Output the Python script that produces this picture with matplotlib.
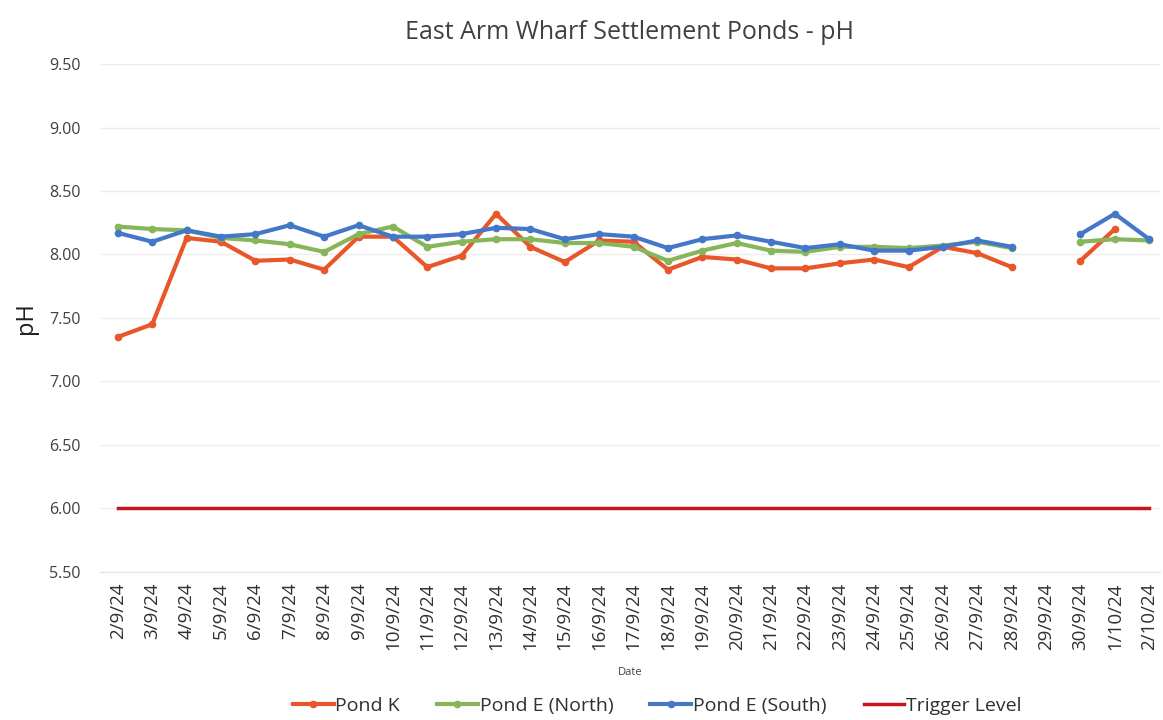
import numpy as np
import matplotlib
matplotlib.use('Agg')
import matplotlib.pyplot as plt

plt.rcParams['font.family'] = ['Open Sans', 'DejaVu Sans']

# Data (None = no reading that day)
dates = ['2/9/24', '3/9/24', '4/9/24', '5/9/24', '6/9/24', '7/9/24', '8/9/24', '9/9/24',
         '10/9/24', '11/9/24', '12/9/24', '13/9/24', '14/9/24', '15/9/24', '16/9/24',
         '17/9/24', '18/9/24', '19/9/24', '20/9/24', '21/9/24', '22/9/24', '23/9/24',
         '24/9/24', '25/9/24', '26/9/24', '27/9/24', '28/9/24', '29/9/24', '30/9/24',
         '1/10/24', '2/10/24']

pond_k = [7.35, 7.45, 8.13, 8.10, 7.95, 7.96, 7.88, 8.14, 8.14, 7.90, 7.99, 8.32,
          8.06, 7.94, 8.11, 8.10, 7.88, 7.98, 7.96, 7.89, 7.89, 7.93, 7.96, 7.90,
          8.06, 8.01, 7.90, None, 7.95, 8.20, None]

pond_e_north = [8.22, 8.20, 8.19, 8.13, 8.11, 8.08, 8.02, 8.16, 8.22, 8.06, 8.10, 8.12,
                8.12, 8.09, 8.09, 8.06, 7.95, 8.03, 8.09, 8.03, 8.02, 8.06, 8.06, 8.05,
                8.07, 8.10, 8.05, None, 8.10, 8.12, 8.11]

pond_e_south = [8.17, 8.10, 8.19, 8.14, 8.16, 8.23, 8.14, 8.23, 8.14, 8.14, 8.16, 8.21,
                8.20, 8.12, 8.16, 8.14, 8.05, 8.12, 8.15, 8.10, 8.05, 8.08, 8.03, 8.03,
                8.06, 8.11, 8.06, None, 8.16, 8.32, 8.12]

trigger = [6.00] * len(dates)


def to_arr(vals):
    return np.array([np.nan if v is None else v for v in vals], dtype=float)


x = np.arange(len(dates))

fig = plt.figure(figsize=(11.63, 7.2), dpi=100)
ax = fig.add_axes([0.086, 0.206, 0.911, 0.705])

ax.plot(x, to_arr(pond_k), color='#E8572A', lw=3, marker='o', ms=4.5, label='Pond K', zorder=3)
ax.plot(x, to_arr(pond_e_north), color='#86B55A', lw=3, marker='o', ms=4.5, label='Pond E (North)', zorder=4)
ax.plot(x, to_arr(pond_e_south), color='#4477C8', lw=3, marker='o', ms=4.5, label='Pond E (South)', zorder=5)
ax.plot(x, trigger, color='#C8141E', lw=2.5, label='Trigger Level', zorder=2)

yt = np.arange(5.5, 9.51, 0.5)
ax.set_ylim(5.5, 9.5)
ax.set_yticks(yt)
ax.set_yticklabels([f'{v:.2f}' for v in yt], fontsize=11.5, color='#404040')
ax.set_xlim(-0.52, 30.3)
ax.set_xticks(x)
ax.set_xticklabels(dates, rotation=90, fontsize=13.5, color='#303030')
ax.tick_params(length=0, pad=8)
ax.tick_params(axis='y', pad=14)

ax.grid(axis='y', color='#EDEDED', lw=1)
ax.set_axisbelow(True)
for s in ['top', 'right', 'left']:
    ax.spines[s].set_visible(False)
ax.spines['bottom'].set_color('#E4E4E4')

ax.set_title('East Arm Wharf Settlement Ponds - pH', fontsize=18, color='#404040', pad=18)
ax.set_ylabel('pH', fontsize=17, color='#202020', labelpad=8)
ax.set_xlabel('Date', fontsize=8, color='#404040', labelpad=12)

ax.legend(loc='upper center', bbox_to_anchor=(0.526, -0.212), ncol=4, frameon=False,
          fontsize=14, handlelength=2.1, handletextpad=0.1, columnspacing=1.9,
          labelcolor='#303030')

fig.savefig('out.png', dpi=100)
